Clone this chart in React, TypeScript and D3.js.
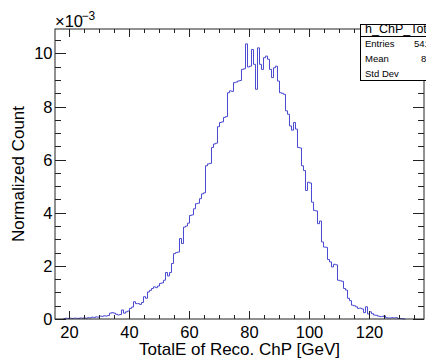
import React from "react";
import * as d3 from "d3";

const X_TICKS = [20, 40, 60, 80, 100, 120];
const Y_TICKS = [0, 2, 4, 6, 8, 10];
const X_TITLE = "TotalE of Reco. ChP [GeV]";
const Y_TITLE = "Normalized Count";
const HIST_NAME = "h_ChP_TotalE";
const STAT_LABELS = ["Entries", "Mean", "Std Dev"];
const STAT_VALUES = ["54120", "83.05", "14.87"];
const BIN_START = 18;
const BIN_WIDTH = 2 / 3;
// bin contents in units of 1e-3
const COUNTS = [
  0.02, 0.03, 0.02, 0.03, 0.02, 0.03, 0.03, 0.02, 0.04, 0.03,
  0.04, 0.03, 0.05, 0.04, 0.07, 0.06, 0.08, 0.07, 0.11, 0.10,
  0.12, 0.11, 0.13, 0.22, 0.24, 0.22, 0.18, 0.15, 0.17, 0.34,
  0.22, 0.27, 0.30, 0.40, 0.45, 0.65, 0.58, 0.58, 0.55, 0.62,
  0.84, 0.78, 1.02, 1.08, 1.15, 1.21, 1.18, 1.24, 1.34, 1.36,
  1.46, 1.75, 1.62, 1.75, 2.09, 2.46, 2.50, 2.52, 3.03, 2.84,
  3.46, 3.50, 3.61, 3.90, 3.92, 4.15, 4.34, 4.36, 4.53, 4.71,
  4.75, 5.77, 5.84, 5.86, 6.46, 6.59, 6.62, 7.24, 7.40, 7.42,
  7.59, 7.62, 8.52, 8.59, 8.57, 8.90, 8.92, 8.96, 8.98, 9.40,
  9.42, 10.36, 9.49, 9.52, 10.15, 9.59, 8.65, 10.21, 9.59, 9.40,
  9.84, 9.90, 9.78, 9.40, 9.09, 9.46, 9.52, 8.96, 8.52, 8.50,
  8.46, 7.84, 7.71, 7.27, 7.11, 7.40, 7.15, 6.46, 6.44, 5.77,
  5.59, 4.84, 5.15, 5.12, 4.40, 4.09, 4.07, 3.59, 3.69, 2.90,
  2.71, 2.70, 2.24, 2.15, 1.96, 2.06, 2.04, 1.46, 1.44, 1.42,
  1.15, 1.09, 0.78, 0.69, 0.52, 0.50, 0.46, 0.40, 0.41, 0.38,
  0.24, 0.46, 0.19, 0.27, 0.20, 0.15, 0.14, 0.11, 0.09, 0.09,
  0.12, 0.05, 0.04, 0.04, 0.05, 0.04, 0.05, 0.02, 0.02, 0.01,
  0.0,
];

const W = 426;
const H = 359;
const L = 55;
const R = 424;
const T = 29;
const B = 319;
const FONT = "'Liberation Sans', Arial, Helvetica, sans-serif";

export default function App() {
  const x = d3.scaleLinear().domain([15.17, 138.17]).range([L, R]);
  const y = d3.scaleLinear().domain([0, 10.92]).range([B, T]);

  const pts: [number, number][] = [];
  COUNTS.forEach((v, i) => {
    const x0 = BIN_START + i * BIN_WIDTH;
    pts.push([x(x0), y(v)]);
    pts.push([x(x0 + BIN_WIDTH), y(v)]);
  });
  const line = d3.line<[number, number]>().x((d) => d[0]).y((d) => d[1]);

  const xMinor = d3.range(20, 138.1, 5);
  const yMinor = d3.range(0, 10.9, 0.5);
  const tickColor = "#222";

  return (
    <svg
      width={W}
      height={H}
      style={{ position: "absolute", left: 0, top: 0, background: "#fff" }}
      fontFamily={FONT}
    >
      <rect x={0} y={0} width={W} height={H} fill="#fff" />
      <path d={line(pts) || ""} fill="none" stroke="#4a4ad2" strokeWidth={1} />
      {/* frame */}
      <rect x={L} y={T} width={R - L} height={B - T} fill="none" stroke={tickColor} strokeWidth={1} />
      {/* x ticks */}
      {xMinor.map((v) => {
        const major = v % 20 === 0;
        const len = major ? 8 : 4;
        const px = Math.round(x(v)) + 0.5;
        return (
          <g key={"xt" + v}>
            <line x1={px} x2={px} y1={B} y2={B - len} stroke={tickColor} strokeWidth={1} />
            <line x1={px} x2={px} y1={T} y2={T + len} stroke={tickColor} strokeWidth={1} />
          </g>
        );
      })}
      {/* y ticks */}
      {yMinor.map((v) => {
        const major = Math.abs(v % 2) < 1e-6;
        const len = major ? 11 : 6;
        const py = Math.round(y(v)) + 0.5;
        return (
          <g key={"yt" + v}>
            <line x1={L} x2={L + len} y1={py} y2={py} stroke={tickColor} strokeWidth={1} />
            <line x1={R} x2={R - len} y1={py} y2={py} stroke={tickColor} strokeWidth={1} />
          </g>
        );
      })}
      {X_TICKS.map((v) => (
        <text key={"xl" + v} x={x(v)} y={338} fontSize={16.5} textAnchor="middle" fill="#000">
          {v}
        </text>
      ))}
      {Y_TICKS.map((v) => (
        <text key={"yl" + v} x={52.5} y={y(v) + 6} fontSize={16.5} textAnchor="end" fill="#000">
          {v}
        </text>
      ))}
      <text x={55} y={26.7} fontSize={16.5} fill="#000">
        ×10
      </text>
      <text x={81.5} y={19.5} fontSize={12} fill="#000">
        −3
      </text>
      <text x={(L + R) / 2} y={355} fontSize={17} textAnchor="middle" fill="#000">
        {X_TITLE}
      </text>
      <text
        transform={`translate(24, ${(T + B) / 2}) rotate(-90)`}
        fontSize={17}
        textAnchor="middle"
        fill="#000"
      >
        {Y_TITLE}
      </text>
      {/* stats box */}
      <rect x={360.5} y={24.5} width={80} height={56} fill="#fff" stroke="#000" strokeWidth={1} />
      <line x1={360.5} x2={440} y1={36.5} y2={36.5} stroke="#000" strokeWidth={1} />
      <text x={365} y={33} fontSize={12.5} fill="#000">
        {HIST_NAME}
      </text>
      {STAT_LABELS.map((s, i) => (
        <text key={s} x={365} y={47.3 + i * 15} fontSize={9.5} fill="#000">
          {s}
        </text>
      ))}
      {STAT_VALUES.map((s, i) => (
        <text key={"v" + i} x={414 + i * 7} y={47.3 + i * 15} fontSize={9.5} fill="#000">
          {s}
        </text>
      ))}
    </svg>
  );
}
